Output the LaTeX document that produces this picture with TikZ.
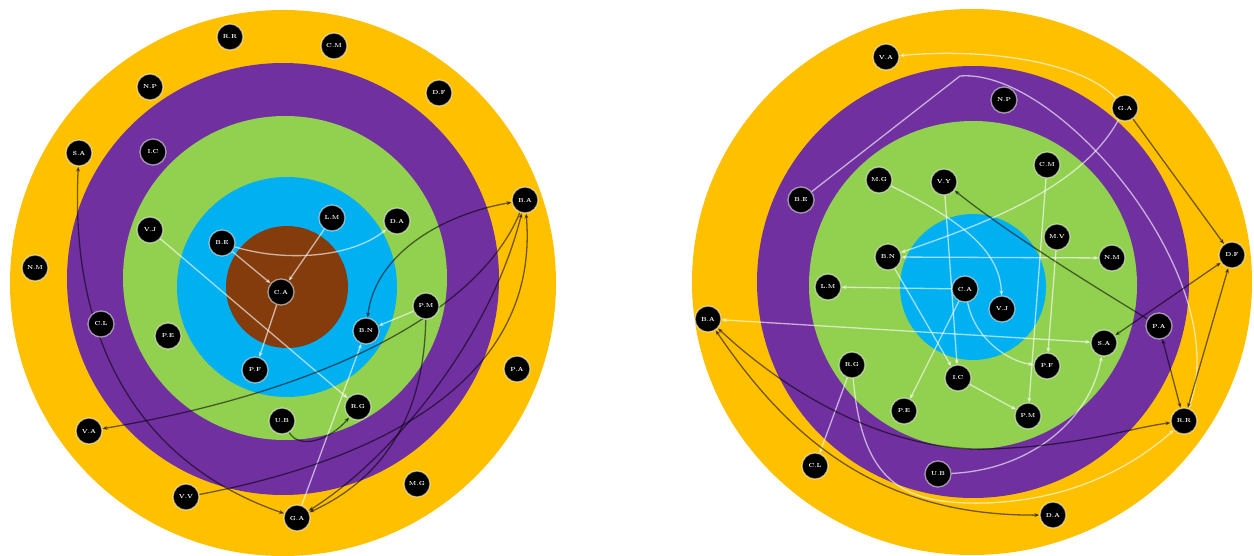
\documentclass[tikz,border=0pt]{standalone}
\usetikzlibrary{arrows.meta}
\definecolor{cyel}{HTML}{FFC000}
\definecolor{cpur}{HTML}{7030A0}
\definecolor{cgrn}{HTML}{92D050}
\definecolor{cblu}{HTML}{00B0F0}
\definecolor{cbrn}{HTML}{843C0C}
\pgfdeclarelayer{back}
\pgfdeclarelayer{mid}
\pgfsetlayers{back,mid,main}
\begin{document}
\begin{tikzpicture}[x=1pt,y=-1pt,
  nd/.style={circle,fill=black,draw=white,draw opacity=0.55,line width=1.3pt,minimum size=26pt,inner sep=0pt,text=white,font=\fontsize{5.8}{6}\selectfont\bfseries},
  lt/.style={draw=white,opacity=0.62,line width=1.3pt},
  dk/.style={draw=black,opacity=0.55,line width=1.3pt},
  ae/.style={-{Stealth[length=5pt,width=4pt]}},
  ab/.style={{Stealth[length=5pt,width=4pt]}-{Stealth[length=5pt,width=4pt]}},
  as/.style={{Stealth[length=5pt,width=4pt]}-}]
\useasboundingbox (0,0) rectangle (1254,556);
\begin{pgfonlayer}{back}
  \fill[white] (0,0) rectangle (1254,556);
  % left target
  \fill[cyel] (283,283) circle (273pt);
  \fill[cpur] (283,279) circle (216pt);
  \fill[cgrn] (285,278) circle (162pt);
  \fill[cblu] (287,287) circle (110pt);
  \fill[cbrn] (287,287) circle (61pt);
  % right target
  \fill[cyel] (972,282) ellipse [x radius=280pt,y radius=273pt];
  \fill[cpur] (973,282) circle (216pt);
  \fill[cgrn] (973,285) circle (164pt);
  \fill[cblu] (973,287) circle (73pt);
\end{pgfonlayer}

% ---------- left nodes ----------
\node[nd] (lRR) at (230,37) {R.R};
\node[nd] (lCM) at (334,46) {C.M};
\node[nd] (lNP) at (150,87) {N.P};
\node[nd] (lDF) at (439,93) {D.F};
\node[nd] (lSA) at (79,153) {S.A};
\node[nd] (lIC) at (153,152) {I.C};
\node[nd] (lBA) at (525,200) {B.A};
\node[nd] (lVJ) at (150,230) {V.J};
\node[nd] (lBE) at (222,243) {B.E};
\node[nd] (lLM) at (332,218) {L.M};
\node[nd] (lDA) at (397,221) {D.A};
\node[nd] (lNM) at (35,268) {N.M};
\node[nd] (lCA) at (281,292) {C.A};
\node[nd] (lBN) at (366,331) {B.N};
\node[nd] (lPM) at (426,306) {P.M};
\node[nd] (lCL) at (101,324) {C.L};
\node[nd] (lPE) at (168,336) {P.E};
\node[nd] (lPF) at (255,370) {P.F};
\node[nd] (lPA) at (517,369) {P.A};
\node[nd] (lVA) at (89,431) {V.A};
\node[nd] (lUB) at (282,421) {U.B};
\node[nd] (lRG) at (358,407) {R.G};
\node[nd] (lMG) at (417,484) {M.G};
\node[nd] (lVV) at (186,497) {V.V};
\node[nd] (lGA) at (297,518) {G.A};

% ---------- right nodes ----------
\node[nd] (rVA) at (886,57) {V.A};
\node[nd] (rNP) at (1004,100) {N.P};
\node[nd] (rGA) at (1125,108) {G.A};
\node[nd] (rBE) at (801,200) {B.E};
\node[nd] (rMG) at (879,180) {M.G};
\node[nd] (rVY) at (944,182) {V.Y};
\node[nd] (rCM) at (1047,165) {C.M};
\node[nd] (rMV) at (1057,237) {M.V};
\node[nd] (rNM) at (1112,258) {N.M};
\node[nd] (rBN) at (888,257) {B.N};
\node[nd] (rDF) at (1232,255) {D.F};
\node[nd] (rLM) at (828,287) {L.M};
\node[nd] (rCA) at (965,289) {C.A};
\node[nd] (rVJ) at (1002,309) {V.J};
\node[nd] (rBA) at (708,319) {B.A};
\node[nd] (rPA) at (1159,326) {P.A};
\node[nd] (rSA) at (1104,343) {S.A};
\node[nd] (rRG) at (852,365) {R.G};
\node[nd] (rPF) at (1047,366) {P.F};
\node[nd] (rIC) at (958,378) {I.C};
\node[nd] (rPE) at (904,411) {P.E};
\node[nd] (rPM) at (1028,416) {P.M};
\node[nd] (rRR) at (1184,421) {R.R};
\node[nd] (rCL) at (815,466) {C.L};
\node[nd] (rUB) at (938,474) {U.B};
\node[nd] (rDA) at (1053,515) {D.A};

\begin{pgfonlayer}{mid}
  % ----- left, light edges -----
  \draw[lt,ae] (lBE) -- (lCA);
  \draw[lt,ae] (lLM) -- (lCA);
  \draw[lt,ae] (lCA) -- (lPF);
  \draw[lt,ae] (lBE) .. controls (285,262) and (350,258) .. (lDA);
  \draw[lt,ae] (lVJ) -- (lRG);
  \draw[lt,ae] (lPM) -- (lBN);
  \draw[lt,ae] (lGA) -- (lBN);
  % ----- left, dark edges -----
  \draw[dk,ab] (lSA) .. controls (70,330) and (130,460) .. (lGA);
  \draw[dk,ae] (lBA) .. controls (480,310) and (330,390) .. (lVA);
  \draw[dk,ab] (lBN) .. controls (375,255) and (440,215) .. (lBA);
  \draw[dk,ae] (lPM) .. controls (424,420) and (380,480) .. (lGA);
  \draw[dk,ab] (lGA) .. controls (390,460) and (490,340) .. (lBA);
  \draw[dk,ae] (lVV) .. controls (380,460) and (540,380) .. (lBA);
  \draw[dk,ae] (lUB) .. controls (300,450) and (330,440) .. (lRG);

  % ----- right, light edges -----
  \draw[lt,as] (rVA) .. controls (980,48) and (1080,60) .. (rGA);
  \draw[lt,ae] (rBE) -- (960,76) .. controls (1060,68) and (1235,280) .. (rRR);
  \draw[lt,ae] (rGA) .. controls (1080,190) and (980,225) .. (rBN);
  \draw[lt,ab] (rBA) -- (rSA);
  \draw[lt,ae] (rCA) -- (rLM);
  \draw[lt,ab] (rBN) -- (rNM);
  \draw[lt,ae] (rMV) -- (rPF);
  \draw[lt,ae] (rCM) -- (rPM);
  \draw[lt,ae] (rVY) -- (rIC);
  \draw[lt,ae] (rMG) .. controls (960,220) and (1000,250) .. (rVJ);
  \draw[lt,ae] (rBN) -- (rIC);
  \draw[lt,ae] (rCA) -- (rPE);
  \draw[lt,ae] (rCA) .. controls (975,340) and (1010,362) .. (rPF);
  \draw[lt,ae] (rIC) -- (rPM);
  \draw[lt,ae] (rUB) .. controls (1030,470) and (1090,420) .. (rSA);
  \draw[lt,ae] (rRG) -- (rCL);
  \draw[lt,ae] (rRG) .. controls (862,480) and (900,505) .. (985,503) .. controls (1080,500) and (1140,460) .. (rRR);
  % ----- right, dark edges -----
  \draw[dk,ae] (rGA) -- (rDF);
  \draw[dk,ab] (rDF) -- (rRR);
  \draw[dk,ab] (rPA) -- (rRR);
  \draw[dk,ab] (rDF) -- (rSA);
  \draw[dk,as] (rVY) .. controls (1010,235) and (1100,290) .. (rPA);
  \draw[dk,ab] (rBA) .. controls (800,405) and (900,452) .. (990,449) .. controls (1080,446) and (1130,428) .. (rRR);
  \draw[dk,ab] (rBA) .. controls (790,440) and (880,516) .. (rDA);
\end{pgfonlayer}
\end{tikzpicture}
\end{document}
